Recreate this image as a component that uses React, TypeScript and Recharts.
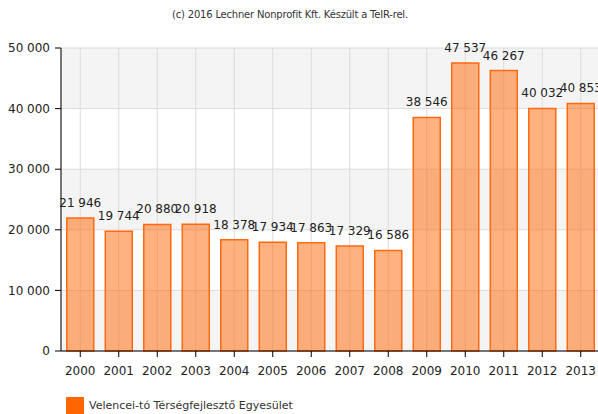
import React from 'react';
import { BarChart, Bar, XAxis, YAxis, CartesianGrid, LabelList, Legend } from 'recharts';

const years = ['2000','2001','2002','2003','2004','2005','2006','2007','2008','2009','2010','2011','2012','2013'];
const values = [21946, 19744, 20880, 20918, 18378, 17934, 17863, 17329, 16586, 38546, 47537, 46267, 40032, 40853];
const yTicks = [0, 10000, 20000, 30000, 40000, 50000];
const seriesName = 'Velencei-tó Térségfejlesztő Egyesület';
const title = '(c) 2016 Lechner Nonprofit Kft. Készült a TeIR-rel.';

const data = years.map((y, i) => ({ year: y, value: values[i] }));

const fmt = (v: number) => {
  const s = String(Math.round(v));
  return s.replace(/\B(?=(\d{3})+(?!\d))/g, ' ');
};

const FONT = '"DejaVu Sans", Verdana, sans-serif';

const TopLabel = (props: any) => {
  const { x, y, width, value } = props;
  return (
    <text x={Number(x) + Number(width) / 2} y={Number(y) - 11} textAnchor="middle" fill="#222" fontSize={12} fontFamily={FONT}>
      {fmt(Number(value))}
    </text>
  );
};

export default function App() {
  return (
    <div style={{ position: 'absolute', left: 0, top: 0, width: 598, height: 414, overflow: 'hidden', background: '#fff', fontFamily: FONT }}>
      <div style={{ position: 'absolute', left: 0, width: 580, top: 9, textAlign: 'center', fontSize: 10, color: '#333', letterSpacing: -0.2 }}>{title}</div>
      <BarChart width={600} height={414} data={data} margin={{ top: 48, right: 0, left: 0, bottom: 33 }} barCategoryGap="15%">
        <CartesianGrid stroke="#dcdcdc" horizontalFill={['#f4f4f4', '#ffffff']} fillOpacity={1} />
        <XAxis dataKey="year" height={30} axisLine={{ stroke: '#000' }} tickLine={{ stroke: '#000' }} tickSize={6} tickMargin={9} tick={{ fill: '#222', fontSize: 12, fontFamily: FONT }} />
        <YAxis width={61} domain={[0, 50000]} ticks={yTicks} tickFormatter={fmt} axisLine={{ stroke: '#000' }} tickLine={{ stroke: '#000' }} tickSize={6} tickMargin={5} tick={{ fill: '#222', fontSize: 12, fontFamily: FONT }} />
        <Legend layout="vertical" align="center" verticalAlign="middle" wrapperStyle={{ position: 'absolute', left: 66, top: 397, width: 320, height: 17 }}
          content={() => (
            <div style={{ display: 'flex', alignItems: 'center', fontFamily: FONT, fontSize: 11, color: '#333' }}>
              <span style={{ display: 'inline-block', width: 18, height: 17, background: '#ff6600', marginRight: 5 }} />
              <span>{seriesName}</span>
            </div>
          )} />
        <Bar dataKey="value" name={seriesName} fill="#ff6600" fillOpacity={0.5} stroke="#ff6a10" strokeWidth={1.5} isAnimationActive={false}>
          <LabelList dataKey="value" content={TopLabel} />
        </Bar>
      </BarChart>
    </div>
  );
}
